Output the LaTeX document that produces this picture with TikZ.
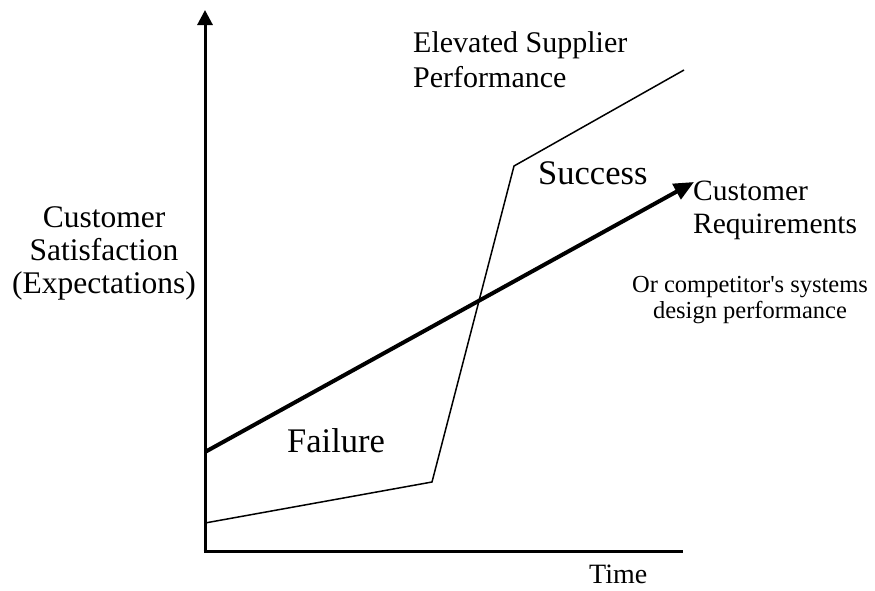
\documentclass[tikz,border=0pt]{standalone}
\usepackage{fontspec}
\setmainfont{Liberation Serif}
\usetikzlibrary{positioning, arrows.meta}

\begin{document}
\begin{tikzpicture}[x=1pt, y=-1pt, inner sep=0pt,
  axis/.style = {line width=3pt},
  need/.style = {line width=4pt, -{Triangle[length=20pt,width=17pt]}},
  supply/.style = {line width=1.5pt, line join=miter},
  lbl/.style = {font=\fontsize{31.5}{33}\selectfont, align=center, anchor=base},
  big/.style = {font=\fontsize{34.5}{36}\selectfont, anchor=base west}]
\useasboundingbox (0,0) rectangle (875,590);

% axes
\coordinate (o) at (205,551);
\coordinate (ytop) at (205,10);
\coordinate (xend) at (683,551);
\draw[axis, -{Triangle[length=15pt,width=15pt]}] (o) -- (ytop);
\draw[axis] ([xshift=-1.5pt]o) -- (xend);

% supplier performance
\coordinate (s0) at (205,523);
\coordinate (s1) at (432,482);
\coordinate (s2) at (514,166);
\coordinate (s3) at (684,70);
\draw[supply] (s0) -- (s1) -- (s2) -- (s3);

% customer requirements
\coordinate (r0) at (205,452);
\coordinate (r1) at (694,182);
\draw[need] (r0) -- (r1);

% labels (base = last line)
\node[lbl] (sat) at (104,293) {Customer\\Satisfaction\\(Expectations)};
\node[font=\fontsize{30}{35}\selectfont, align=left, anchor=base west] (elev) at (413,87) {Elevated Supplier\\Performance};
\node[font=\fontsize{29.5}{33}\selectfont, align=left, anchor=base west] (req) at (693,233) {Customer\\Requirements};
\node[font=\fontsize{24.5}{26}\selectfont, align=center, anchor=base] (comp) at (750,318) {Or competitor\textquotesingle s systems\\design performance};
\node[big] (fail) at (287,452) {Failure};
\node[big] (succ) at (538,184) {Success};
\node[font=\fontsize{28}{30}\selectfont, anchor=base west] (time) at (589,583) {Time};
\end{tikzpicture}
\end{document}
